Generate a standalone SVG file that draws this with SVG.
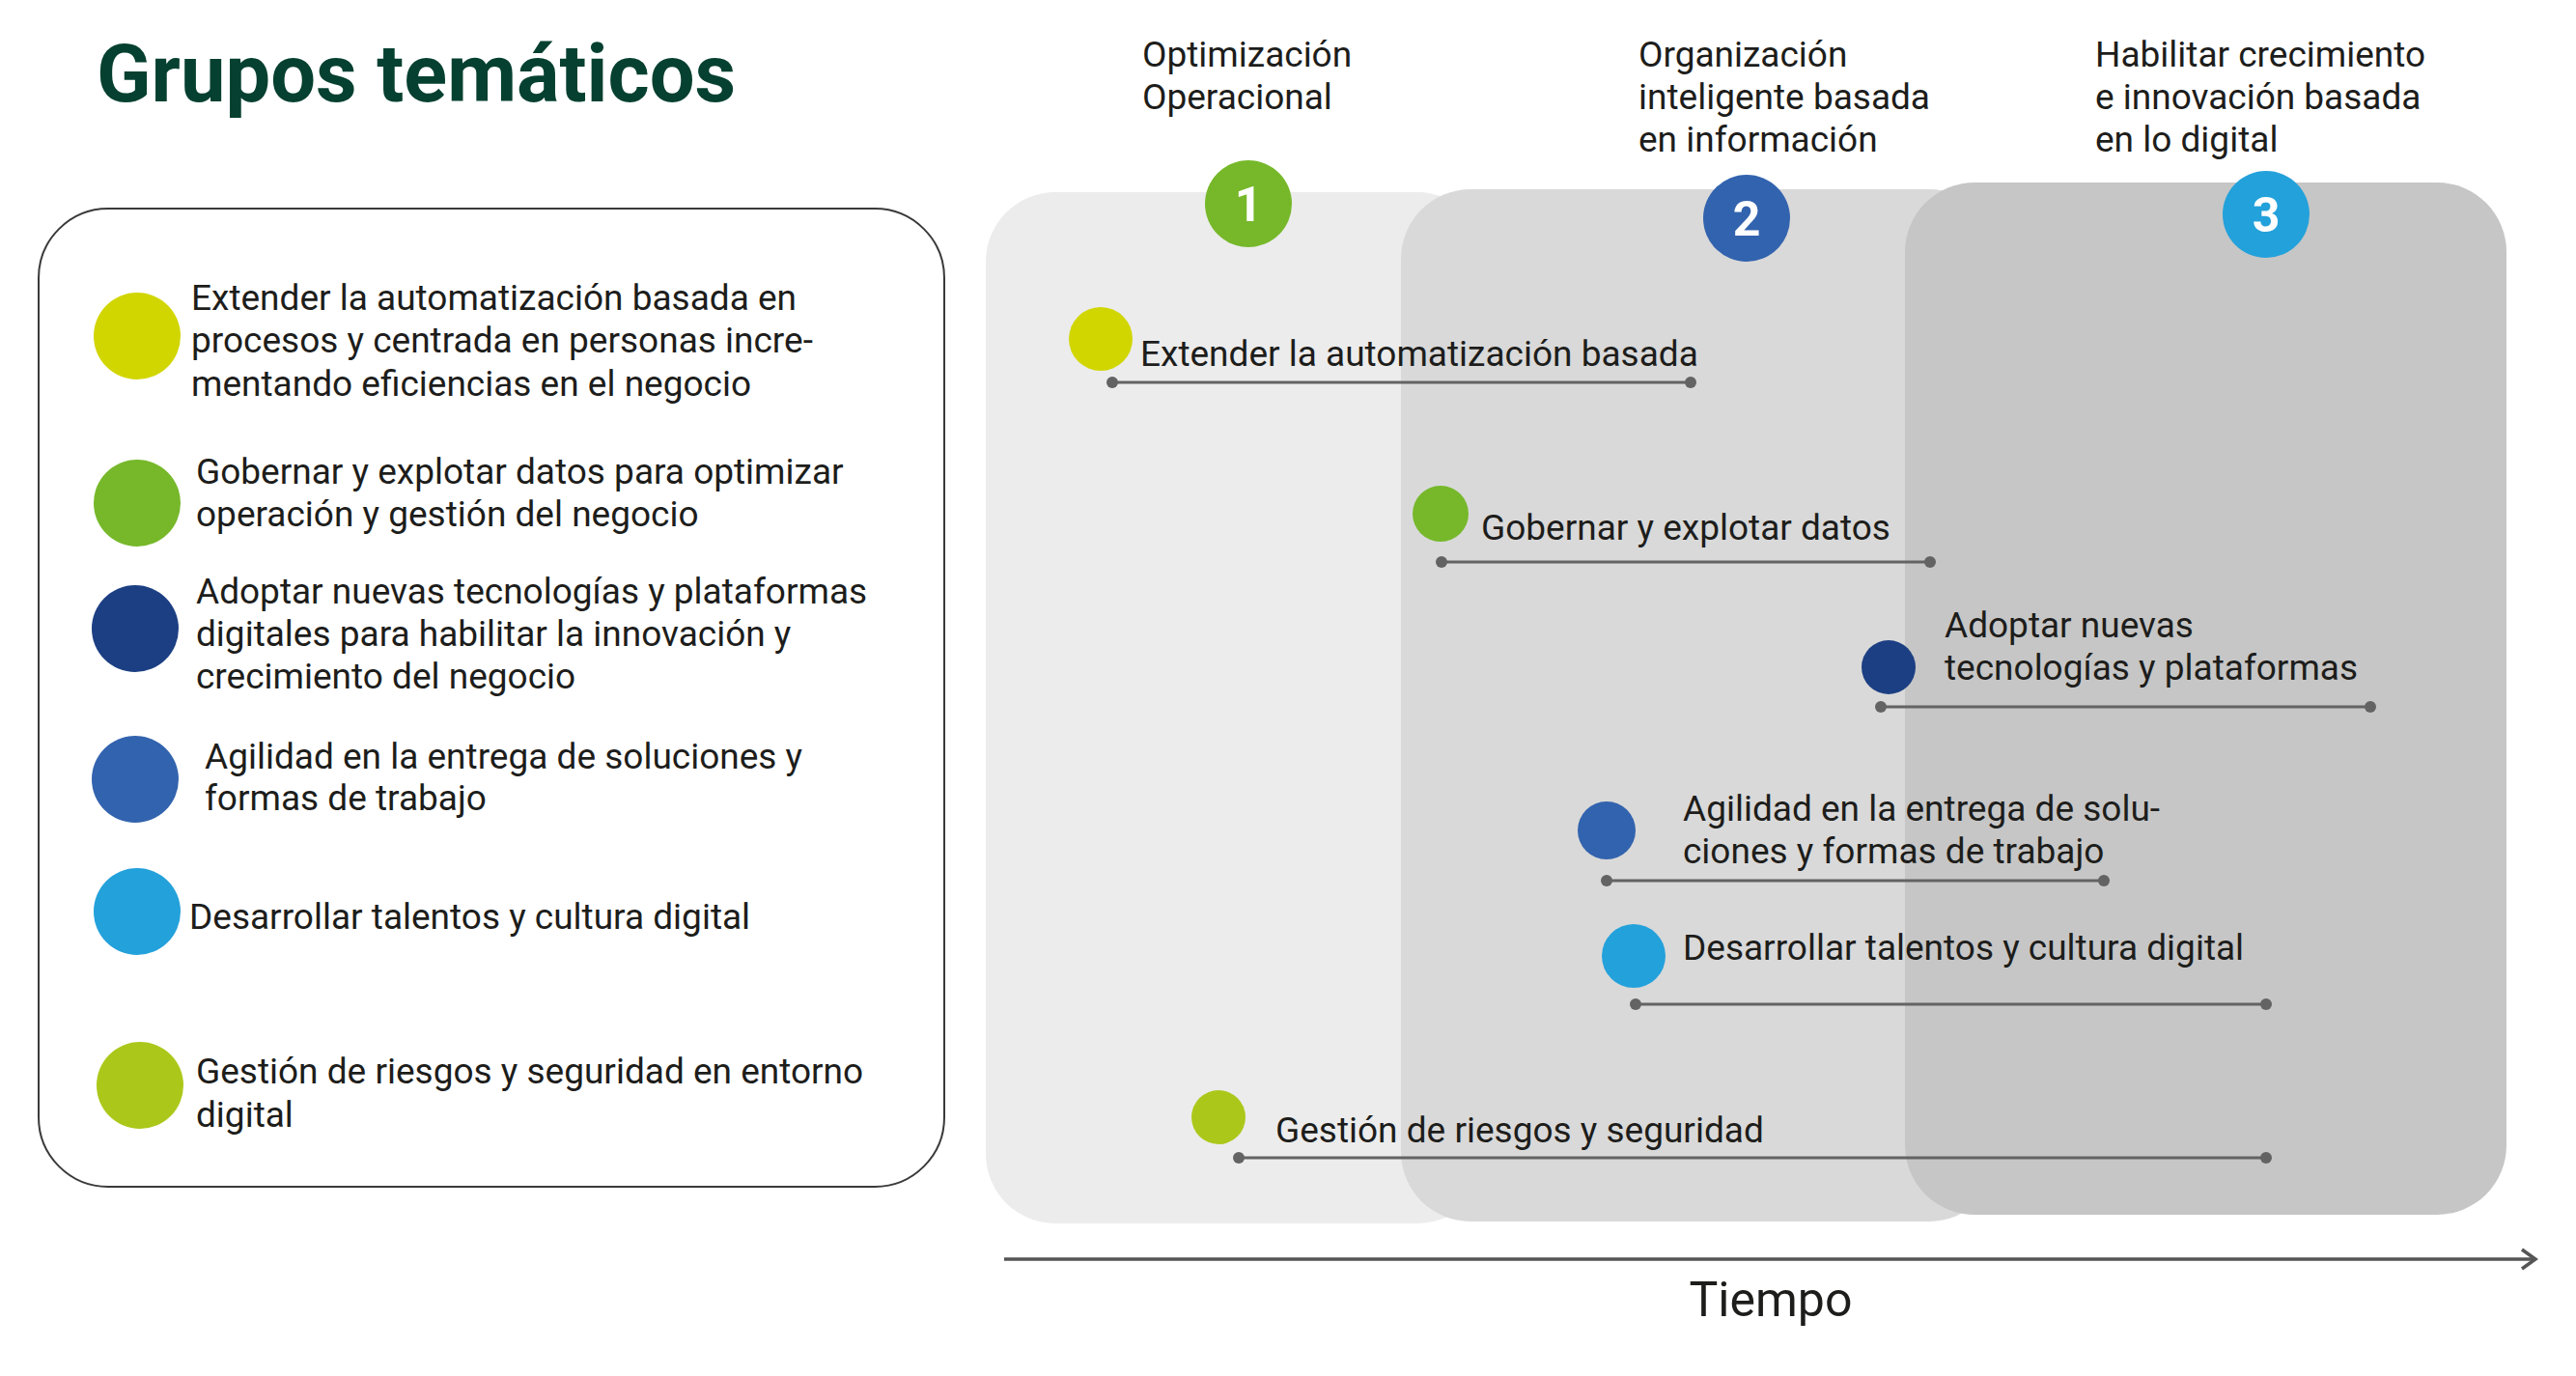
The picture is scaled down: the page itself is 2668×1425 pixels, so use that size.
<svg xmlns="http://www.w3.org/2000/svg" width="2668" height="1425" viewBox="0 0 2668 1425">
<style>
  text { font-family: Roboto, "Liberation Sans", sans-serif; fill: #1d1d1b; }
  .t { font-size: 37px; }
  .title { font-size: 83px; font-weight: 700; fill: #064030; }
  .num { font-size: 50px; font-weight: 700; fill: #ffffff; text-anchor: middle; }
  .axislbl { font-size: 50px; text-anchor: middle; }
  .bar { stroke: #636363; stroke-width: 3; fill: none; }
  .end { fill: #636363; }
  .c-yellow { fill: #D1D600; }
  .c-green { fill: #76B82A; }
  .c-dblue { fill: #1C3F83; }
  .c-mblue { fill: #3263AE; }
  .c-lblue { fill: #23A1DB; }
  .c-lime { fill: #ABC81A; }
</style>
<defs>
  <marker id="arrow" viewBox="0 0 20 24" refX="17" refY="12" markerWidth="20" markerHeight="24" markerUnits="userSpaceOnUse" orient="auto">
    <path d="M3,2 L17,12 L3,22" fill="none" stroke="#555555" stroke-width="3.5"/>
  </marker>
</defs>
<rect width="2668" height="1425" fill="#ffffff"/>

<g id="title">
  <text class="title" x="100" y="105">Grupos temáticos</text>
</g>

<g id="legend">
  <rect x="40" y="216" width="938" height="1013" rx="72" ry="72" fill="#ffffff" stroke="#3a3a3a" stroke-width="2"/>
  <g id="legend-1">
    <circle class="c-yellow" cx="142" cy="348" r="45"/>
    <text class="t" x="198" y="321">Extender la automatización basada en</text>
    <text class="t" x="198" y="365">procesos y centrada en personas incre-</text>
    <text class="t" x="198" y="410">mentando eficiencias en el negocio</text>
  </g>
  <g id="legend-2">
    <circle class="c-green" cx="142" cy="521" r="45"/>
    <text class="t" x="203" y="501">Gobernar y explotar datos para optimizar</text>
    <text class="t" x="203" y="545">operación y gestión del negocio</text>
  </g>
  <g id="legend-3">
    <circle class="c-dblue" cx="140" cy="651" r="45"/>
    <text class="t" x="203" y="625">Adoptar nuevas tecnologías y plataformas</text>
    <text class="t" x="203" y="669">digitales para habilitar la innovación y</text>
    <text class="t" x="203" y="713">crecimiento del negocio</text>
  </g>
  <g id="legend-4">
    <circle class="c-mblue" cx="140" cy="807" r="45"/>
    <text class="t" x="212" y="796">Agilidad en la entrega de soluciones y</text>
    <text class="t" x="212" y="839">formas de trabajo</text>
  </g>
  <g id="legend-5">
    <circle class="c-lblue" cx="142" cy="944" r="45"/>
    <text class="t" x="196" y="962">Desarrollar talentos y cultura digital</text>
  </g>
  <g id="legend-6">
    <circle class="c-lime" cx="145" cy="1124" r="45"/>
    <text class="t" x="203" y="1122">Gestión de riesgos y seguridad en entorno</text>
    <text class="t" x="203" y="1167">digital</text>
  </g>
</g>

<g id="phases">
  <g id="phase-1">
    <rect x="1021" y="199" width="519" height="1068" rx="72" ry="72" fill="#ECECEC"/>
  </g>
  <g id="phase-2">
    <rect x="1451" y="196" width="619" height="1069" rx="72" ry="72" fill="#D9D9D9"/>
  </g>
  <g id="phase-3">
    <rect x="1973" y="189" width="623" height="1069" rx="72" ry="72" fill="#C6C6C6"/>
  </g>
</g>

<g id="phase-headers">
  <g id="header-1">
    <text class="t" x="1183" y="69">Optimización</text>
    <text class="t" x="1183" y="113">Operacional</text>
    <circle class="c-green" cx="1293" cy="211" r="45"/>
    <text class="num" x="1293" y="229">1</text>
  </g>
  <g id="header-2">
    <text class="t" x="1697" y="69">Organización</text>
    <text class="t" x="1697" y="113">inteligente basada</text>
    <text class="t" x="1697" y="157">en información</text>
    <circle class="c-mblue" cx="1809" cy="226" r="45"/>
    <text class="num" x="1809" y="244">2</text>
  </g>
  <g id="header-3">
    <text class="t" x="2170" y="69">Habilitar crecimiento</text>
    <text class="t" x="2170" y="113">e innovación basada</text>
    <text class="t" x="2170" y="157">en lo digital</text>
    <circle class="c-lblue" cx="2347" cy="222" r="45"/>
    <text class="num" x="2347" y="240">3</text>
  </g>
</g>

<g id="connectors">
  <line class="bar" x1="1152" y1="396" x2="1751" y2="396"/>
  <circle class="end" cx="1152" cy="396" r="6"/><circle class="end" cx="1751" cy="396" r="6"/>
  <line class="bar" x1="1493" y1="582" x2="1999" y2="582"/>
  <circle class="end" cx="1493" cy="582" r="6"/><circle class="end" cx="1999" cy="582" r="6"/>
  <line class="bar" x1="1948" y1="732" x2="2455" y2="732"/>
  <circle class="end" cx="1948" cy="732" r="6"/><circle class="end" cx="2455" cy="732" r="6"/>
  <line class="bar" x1="1664" y1="912" x2="2179" y2="912"/>
  <circle class="end" cx="1664" cy="912" r="6"/><circle class="end" cx="2179" cy="912" r="6"/>
  <line class="bar" x1="1694" y1="1040" x2="2347" y2="1040"/>
  <circle class="end" cx="1694" cy="1040" r="6"/><circle class="end" cx="2347" cy="1040" r="6"/>
  <line class="bar" x1="1283" y1="1199" x2="2347" y2="1199"/>
  <circle class="end" cx="1283" cy="1199" r="6"/><circle class="end" cx="2347" cy="1199" r="6"/>
  <line x1="1040" y1="1304" x2="2626" y2="1304" stroke="#555555" stroke-width="3.5" marker-end="url(#arrow)"/>
</g>

<g id="item-1">
  <circle class="c-yellow" cx="1140" cy="351" r="33"/>
  <text class="t" x="1181" y="379">Extender la automatización basada</text>
</g>
<g id="item-2">
  <circle class="c-green" cx="1492" cy="532" r="29"/>
  <text class="t" x="1534" y="559">Gobernar y explotar datos</text>
</g>
<g id="item-3">
  <circle class="c-dblue" cx="1956" cy="691" r="28"/>
  <text class="t" x="2014" y="660">Adoptar nuevas</text>
  <text class="t" x="2014" y="704">tecnologías y plataformas</text>
</g>
<g id="item-4">
  <circle class="c-mblue" cx="1664" cy="860" r="30"/>
  <text class="t" x="1743" y="850">Agilidad en la entrega de solu-</text>
  <text class="t" x="1743" y="894">ciones y formas de trabajo</text>
</g>
<g id="item-5">
  <circle class="c-lblue" cx="1692" cy="990" r="33"/>
  <text class="t" x="1743" y="994">Desarrollar talentos y cultura digital</text>
</g>
<g id="item-6">
  <circle class="c-lime" cx="1262" cy="1157" r="28"/>
  <text class="t" x="1321" y="1183">Gestión de riesgos y seguridad</text>
</g>

<g id="axis-label">
  <text class="axislbl" x="1834" y="1363">Tiempo</text>
</g>
</svg>
